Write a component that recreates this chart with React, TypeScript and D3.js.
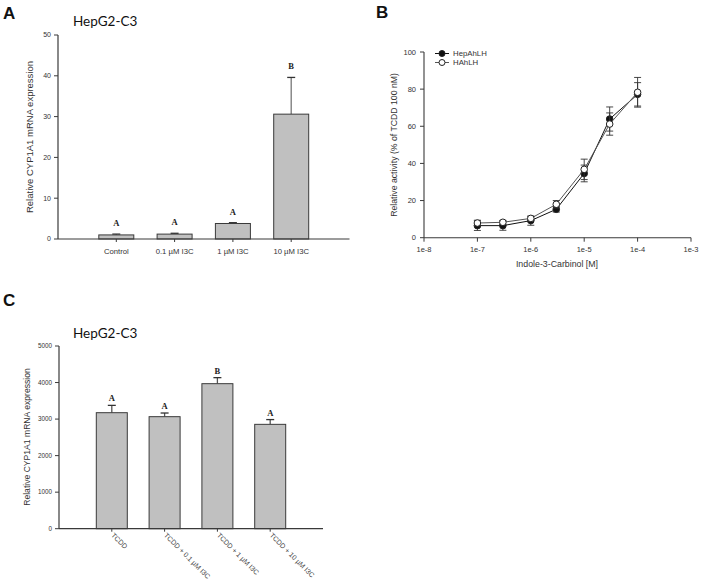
import React from "react";
import * as d3 from "d3";

// Panel A data
const catsA = ["Control", "0.1 µM I3C", "1 µM I3C", "10 µM I3C"];
const valsA = [1.0, 1.2, 3.8, 30.6];
const errA = [0.2, 0.2, 0.2, 9.0];
const lettersA = ["A", "A", "A", "B"];
const ticksA = [0, 10, 20, 30, 40, 50];

// Panel B data
const concB = [1e-7, 3e-7, 1e-6, 3e-6, 1e-5, 3e-5, 1e-4];
const hepAhLH = [6.5, 6.5, 9.2, 15.3, 34.6, 63.9, 77.2];
const hepAhLHErr = [2.6, 2.5, 2.5, 1.5, 4.5, 6.5, 6.3];
const hAhLH = [7.9, 8.3, 10.4, 18.0, 36.8, 61.2, 78.3];
const hAhLHErr = [1.5, 1.0, 1.0, 2.0, 5.5, 6.0, 8.0];
const ticksBx = [1e-8, 1e-7, 1e-6, 1e-5, 1e-4, 1e-3];
const tickLabelsBx = ["1e-8", "1e-7", "1e-6", "1e-5", "1e-4", "1e-3"];
const ticksBy = [0, 20, 40, 60, 80, 100];

// Panel C data
const catsC = ["TCDD", "TCDD + 0.1 µM I3C", "TCDD + 1 µM I3C", "TCDD + 10 µM I3C"];
const valsC = [3175, 3066, 3969, 2856];
const errC = [200, 100, 165, 130];
const lettersC = ["A", "A", "B", "A"];
const ticksC = [0, 1000, 2000, 3000, 4000, 5000];

const AX = "#3a3a3a";
const TXT = "#333";
const SANS = "'Liberation Sans', Arial, sans-serif";
const SERIF = "'Liberation Serif', 'Times New Roman', serif";

function BarPanel({
  cats, vals, errs, letters, ticks, x0, x1, yTop, yBot, yMax, bw,
  tickFont, catFont, rotate, letterOffset, letterFont, errColor,
}: any) {
  const x = d3.scalePoint<string>().domain(cats).range([x0, x1]).padding(1);
  const y = d3.scaleLinear().domain([0, yMax]).range([yBot, yTop]);
  return (
    <g>
      {cats.map((c: string, i: number) => {
        const cx = x(c)!;
        const top = y(vals[i]);
        const cap = y(vals[i] + errs[i]);
        return (
          <g key={c}>
            <line x1={cx} x2={cx} y1={top} y2={cap} stroke={errColor} strokeWidth={1.3} />
            <line x1={cx - 4} x2={cx + 4} y1={cap} y2={cap} stroke="#333" strokeWidth={1.3} />
            <rect x={cx - bw / 2} y={top} width={bw} height={yBot - top}
              fill="#c0c0c0" stroke="#3a3a3a" strokeWidth={1} />
            <text x={cx} y={cap - letterOffset} textAnchor="middle"
              fontFamily={SERIF} fontWeight="bold" fontSize={letterFont} fill="#222">
              {letters[i]}
            </text>
            <line x1={cx} x2={cx} y1={yBot} y2={yBot + 3} stroke={AX} />
            {rotate ? (
              <text transform={`translate(${cx - 1},${yBot + 7}) rotate(45)`}
                fontFamily={SANS} fontSize={catFont} fill="#444">{c}</text>
            ) : (
              <text x={cx} y={yBot + 15} textAnchor="middle"
                fontFamily={SANS} fontSize={catFont} fill={TXT}>{c}</text>
            )}
          </g>
        );
      })}
      <line x1={x0} x2={x1} y1={yBot} y2={yBot} stroke={AX} strokeWidth={1.2} />
      <line x1={x0} x2={x0} y1={yTop} y2={yBot} stroke={AX} strokeWidth={1.2} />
      {ticks.map((t: number) => (
        <g key={t}>
          <line x1={x0 - 4} x2={x0} y1={y(t)} y2={y(t)} stroke={AX} />
          <text x={x0 - 7} y={y(t)} dy="0.35em" textAnchor="end"
            fontFamily={SANS} fontSize={tickFont} fill={TXT}>{t}</text>
        </g>
      ))}
    </g>
  );
}

function LinePanel() {
  const x = d3.scaleLog().domain([1e-8, 1e-3]).range([424, 691]);
  const y = d3.scaleLinear().domain([0, 100]).range([237.7, 52]);
  const line = d3.line<number>().x((_, i) => x(concB[i])).y((d) => y(d));
  const series = [
    { name: "HepAhLH", vals: hepAhLH, errs: hepAhLHErr, fill: "#111", lineColor: "#111" },
    { name: "HAhLH", vals: hAhLH, errs: hAhLHErr, fill: "#fff", lineColor: "#555" },
  ];
  return (
    <g>
      <line x1={424} x2={691} y1={y(0)} y2={y(0)} stroke={AX} strokeWidth={1.1} />
      <line x1={424} x2={424} y1={y(100)} y2={y(0)} stroke={AX} strokeWidth={1.1} />
      {ticksBy.map((t) => (
        <g key={t}>
          <line x1={420} x2={424} y1={y(t)} y2={y(t)} stroke={AX} />
          <text x={416} y={y(t)} dy="0.35em" textAnchor="end" fontFamily={SANS}
            fontSize={7.5} fill={TXT}>{t}</text>
        </g>
      ))}
      {ticksBx.map((t, i) => (
        <g key={t}>
          <line x1={x(t)} x2={x(t)} y1={y(0)} y2={y(0) + 4} stroke={AX} />
          <text x={x(t)} y={y(0) + 14} textAnchor="middle" fontFamily={SANS}
            fontSize={7.5} fill={TXT}>{tickLabelsBx[i]}</text>
        </g>
      ))}
      {series.map((s) => (
        <g key={s.name}>
          <path d={line(s.vals)!} fill="none" stroke={s.lineColor} strokeWidth={1} />
          {s.vals.map((v, i) => {
            const cx = x(concB[i]);
            const hi = y(v + s.errs[i]);
            const lo = y(v - s.errs[i]);
            return (
              <g key={i}>
                <line x1={cx} x2={cx} y1={hi} y2={lo} stroke="#333" strokeWidth={0.9} />
                <line x1={cx - 3.5} x2={cx + 3.5} y1={hi} y2={hi} stroke="#333" strokeWidth={0.9} />
                <line x1={cx - 3.5} x2={cx + 3.5} y1={lo} y2={lo} stroke="#333" strokeWidth={0.9} />
              </g>
            );
          })}
          {s.vals.map((v, i) => (
            <circle key={"c" + i} cx={x(concB[i])} cy={y(v)} r={3.3}
              fill={s.fill} stroke="#222" strokeWidth={1} />
          ))}
        </g>
      ))}
      {series.map((s, i) => (
        <g key={"leg" + s.name}>
          <line x1={435} x2={449} y1={53.5 + i * 9} y2={53.5 + i * 9} stroke={s.lineColor} />
          <circle cx={442} cy={53.5 + i * 9} r={3} fill={s.fill} stroke="#222" />
          <text x={453} y={53.5 + i * 9} dy="0.35em" fontFamily={SANS} fontSize={7.8}
            fill={TXT}>{s.name}</text>
        </g>
      ))}
      <text x={557} y={266.5} textAnchor="middle" fontFamily={SANS} fontSize={8.8}
        fill={TXT}>Indole-3-Carbinol [M]</text>
      <text transform="translate(397,145) rotate(-90)" textAnchor="middle"
        fontFamily={SANS} fontSize={8.7} fill={TXT}>Relative activity (% of TCDD 100 nM)</text>
    </g>
  );
}

export default function App() {
  return (
    <svg width={703} height={585} style={{ position: "absolute", left: 0, top: 0, background: "#fff" }}>
      <rect width={703} height={585} fill="#fff" />
      {/* Panel labels */}
      <text x={3} y={19} fontFamily={SANS} fontWeight="bold" fontSize={17} fill="#111">A</text>
      <text x={376} y={18} fontFamily={SANS} fontWeight="bold" fontSize={17} fill="#111">B</text>
      <text x={3} y={306} fontFamily={SANS} fontWeight="bold" fontSize={17} fill="#111">C</text>

      {/* Panel A */}
      <text x={73} y={26} fontFamily="Lato, 'Open Sans', sans-serif" fontSize={13.5} fill="#111">HepG2-C3</text>
      <BarPanel cats={catsA} vals={valsA} errs={errA} letters={lettersA} ticks={ticksA}
        x0={58} x1={349.5} yTop={35} yBot={239} yMax={50} bw={35}
        tickFont={7} catFont={7.7} rotate={false} letterOffset={8} letterFont={8.5} errColor="#777" />
      <text transform="translate(33,137) rotate(-90)" textAnchor="middle"
        fontFamily={SANS} fontSize={9.5} fill={TXT}>Relative CYP1A1 mRNA expression</text>

      <LinePanel />

      {/* Panel C */}
      <text x={73} y={338} fontFamily="Lato, 'Open Sans', sans-serif" fontSize={13.5} fill="#111">HepG2-C3</text>
      <BarPanel cats={catsC} vals={valsC} errs={errC} letters={lettersC} ticks={ticksC}
        x0={59} x1={323} yTop={346} yBot={528.7} yMax={5000} bw={31}
        tickFont={6.3} catFont={7} rotate={true} letterOffset={4} letterFont={8.5} errColor="#555" />
      <text transform="translate(30,437) rotate(-90)" textAnchor="middle"
        fontFamily={SANS} fontSize={8.6} fill={TXT}>Relative CYP1A1 mRNA expression</text>
    </svg>
  );
}
